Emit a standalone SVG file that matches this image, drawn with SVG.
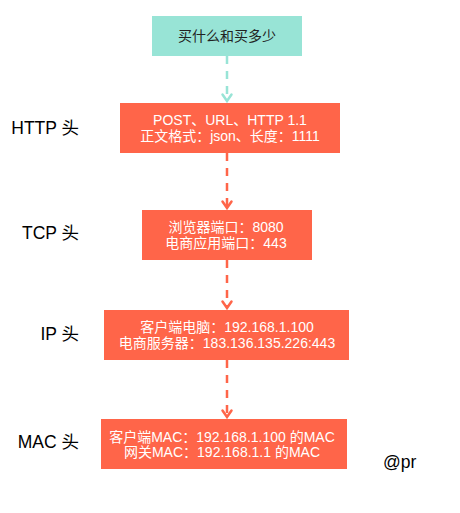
<svg xmlns="http://www.w3.org/2000/svg" width="460" height="513" viewBox="0 0 460 513">
<style>
  text { font-family: "Liberation Sans", "Noto Sans CJK SC", sans-serif; }
  .box { fill: #ff6549; }
  .teal { fill: #98e4d6; }
  .bt { fill: #ffffff; font-size: 14px; text-anchor: middle; }
  .tt { fill: #222222; font-size: 14px; text-anchor: middle; }
  .lbl { fill: #000000; font-size: 17.5px; text-anchor: end; }
  .c { fill: none; stroke-width: 2.5; stroke-dasharray: 8 7; }
  .co { stroke: #ff6549; }
  .ct { stroke: #98e4d6; }
  .hd { fill: none; stroke-width: 2.5; stroke-linecap: round; stroke-linejoin: miter; }
</style>
<rect width="460" height="513" fill="#ffffff"/>
<g id="connectors">
  <line class="c ct" x1="227" y1="56" x2="227" y2="100"/>
  <path class="hd ct" d="M222.5,94.5 L227,101 L231.5,94.5"/>
  <line class="c co" x1="227" y1="153" x2="227" y2="207"/>
  <path class="hd co" d="M222.5,201.5 L227,208 L231.5,201.5"/>
  <line class="c co" x1="227" y1="260" x2="227" y2="307"/>
  <path class="hd co" d="M222.5,301.5 L227,308 L231.5,301.5"/>
  <line class="c co" x1="227" y1="360" x2="227" y2="416"/>
  <path class="hd co" d="M222.5,410.5 L227,417 L231.5,410.5"/>
</g>
<g id="node-start">
  <rect class="teal" x="152" y="16" width="150" height="40"/>
  <text class="tt" x="227" y="41">买什么和买多少</text>
</g>
<g id="node-http">
  <rect class="box" x="120" y="103" width="220" height="50"/>
  <text class="bt" x="230" y="125">POST、URL、HTTP 1.1</text>
  <text class="bt" x="230" y="141">正文格式：json、长度：1111</text>
</g>
<g id="node-tcp">
  <rect class="box" x="142" y="210" width="170" height="50"/>
  <text class="bt" x="226" y="232">浏览器端口：8080</text>
  <text class="bt" x="226" y="247.5">电商应用端口：443</text>
</g>
<g id="node-ip">
  <rect class="box" x="104" y="310" width="245" height="50"/>
  <text class="bt" x="227" y="332">客户端电脑：192.168.1.100</text>
  <text class="bt" x="227" y="347.5">电商服务器：183.136.135.226:443</text>
</g>
<g id="node-mac">
  <rect class="box" x="101" y="419" width="246" height="50"/>
  <text class="bt" x="222" y="441.5">客户端MAC：192.168.1.100 的MAC</text>
  <text class="bt" x="222" y="457">网关MAC：192.168.1.1 的MAC</text>
</g>
<g id="labels">
  <text class="lbl" x="79" y="134">HTTP 头</text>
  <text class="lbl" x="79" y="239">TCP 头</text>
  <text class="lbl" x="79" y="340">IP 头</text>
  <text class="lbl" x="79" y="448">MAC 头</text>
  <text x="383" y="468" font-size="17.5" fill="#000000">@pr</text>
</g>
</svg>
